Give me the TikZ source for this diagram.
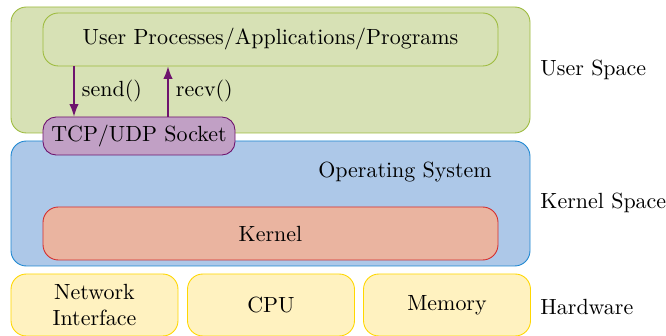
\documentclass[tikz,border=0pt]{standalone}
\usetikzlibrary{arrows.meta,positioning}
\definecolor{usrfill}{RGB}{215,225,181}
\definecolor{usrdraw}{RGB}{157,187,61}
\definecolor{osfill}{RGB}{173,200,232}
\definecolor{osdraw}{RGB}{28,134,209}
\definecolor{krnfill}{RGB}{234,180,160}
\definecolor{krndraw}{RGB}{212,44,44}
\definecolor{sockfill}{RGB}{193,160,197}
\definecolor{sockdraw}{RGB}{110,20,110}
\definecolor{hwfill}{RGB}{255,242,192}
\definecolor{hwdraw}{RGB}{255,215,0}
\tikzset{
  layer/.style={rectangle, rounded corners=7pt, draw, align=center,
                minimum width=8.304cm, minimum height=2.0cm},
  inbox/.style={rectangle, rounded corners=7pt, draw, align=center,
                minimum width=7.28cm, minimum height=0.848cm},
  hwbox/.style={rectangle, rounded corners=7pt, draw=hwdraw, fill=hwfill,
                align=center, minimum width=2.672cm, minimum height=0.992cm},
  sockbox/.style={rectangle, rounded corners=6pt, draw=sockdraw, fill=sockfill,
                  minimum width=3.072cm, minimum height=0.608cm},
  arrow/.style={-{Latex[length=2mm]}, draw=sockdraw, semithick},
  sidelbl/.style={anchor=west, inner sep=0pt}
}
\begin{document}
\begin{tikzpicture}
\useasboundingbox (0,0) rectangle (10.656,5.376);
\node[layer, draw=usrdraw, fill=usrfill, minimum height=2.016cm] (user) at (4.328,4.256) {};
\node[inbox, draw=usrdraw, fill=usrfill] (proc) at (4.328,4.744) {User Processes/Applications/Programs};
\node[layer, draw=osdraw, fill=osfill] (os) at (4.328,2.12) {};
\node (ostxt) at (6.48,2.624) {Operating System};
\node[inbox, draw=krndraw, fill=krnfill] (kernel) at (4.328,1.64) {Kernel};
\node[sockbox] (sock) at (2.224,3.2) {TCP/UDP Socket};
\node[hwbox] (nic) at (1.512,0.496) {Network\\Interface};
\node[hwbox] (cpu) at (4.336,0.496) {CPU};
\node[hwbox] (mem) at (7.152,0.496) {Memory};
\node[sidelbl] (ulbl) at (8.64,4.256) {User Space};
\node[sidelbl] (klbl) at (8.64,2.128) {Kernel Space};
\node[sidelbl] (hlbl) at (8.64,0.464) {Hardware};
\coordinate (sendx) at (1.184,0);
\coordinate (recvx) at (2.688,0);
\draw[arrow] (proc.south -| sendx) -- (sock.north -| sendx) node[midway, right, text=black] {send()};
\draw[arrow] (sock.north -| recvx) -- (proc.south -| recvx) node[midway, right, text=black] {recv()};
\end{tikzpicture}
\end{document}
